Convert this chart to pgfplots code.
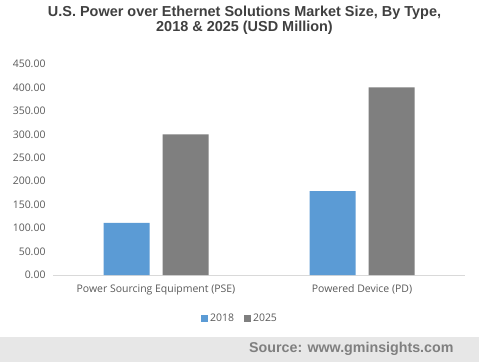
\documentclass[border=0pt]{standalone}
\usepackage{pgfplots}
\pgfplotsset{compat=1.18}
\usepackage{fontspec}
\setmainfont{Open Sans}
\newfontfamily\arialf{Liberation Sans}
\definecolor{bluebar}{HTML}{5B9BD5}
\definecolor{graybar}{HTML}{7F7F7F}
\definecolor{ticktext}{HTML}{595959}
\definecolor{titletext}{HTML}{404040}
\definecolor{banner}{HTML}{E7E7E7}
\definecolor{srctext}{HTML}{7F7F7F}
\definecolor{axisline}{HTML}{D9D9D9}
\begin{document}
\begin{tikzpicture}[x=1bp,y=1bp]
\useasboundingbox (0,0) rectangle (479,362);
\fill[white] (0,0) rectangle (479,362);
\fill[banner] (0,0) rectangle (479,25);
\node[font=\arialf\bfseries\fontsize{14.3}{16}\selectfont, text=srctext, anchor=west, inner sep=0] at (249,13) {Source: www.gminsights.com};
\node[align=center, font=\arialf\bfseries\fontsize{14.5}{15.5}\selectfont, text=titletext, inner sep=0] at (244.5,341.5) {U.S. Power over Ethernet Solutions Market Size, By Type,\\2018 \& 2025 (USD Million)};
\begin{axis}[
  at={(53bp,87bp)}, anchor=south west,
  scale only axis, width=412bp, height=211bp,
  ybar=13bp, bar width=46bp,
  xmin=-0.5, xmax=1.5, ymin=0, ymax=450,
  xtick=data, xticklabels={Power Sourcing Equipment (PSE), Powered Device (PD)},
  ytick={0,50,...,450},
  /pgf/number format/assume math mode=true,
  yticklabel={\pgfmathprintnumber[fixed,fixed zerofill,precision=2]{\tick}},
  tick style={draw=none},
  axis x line*=bottom, axis y line*=left,
  x axis line style={draw=axisline,-},
  y axis line style={draw=none},
  tick label style={font=\fontsize{10.5}{12}\selectfont, text=ticktext},
  yticklabel style={xshift=-4bp},
  xticklabel style={yshift=-2bp},
  legend style={at={(0.454,-0.204)}, anchor=center, draw=none, legend columns=2,
    font=\fontsize{10.5}{12}\selectfont, text=ticktext,
    /tikz/every even column/.append style={column sep=8bp}},
  legend image code/.code={\fill[#1] (0bp,-3.5bp) rectangle (7bp,3.5bp);},
]
\addplot[fill=bluebar, draw=none] coordinates {(0,111) (1,179)};
\addplot[fill=graybar, draw=none] coordinates {(0,300) (1,400)};
\legend{2018, 2025}
\end{axis}
\end{tikzpicture}
\end{document}
